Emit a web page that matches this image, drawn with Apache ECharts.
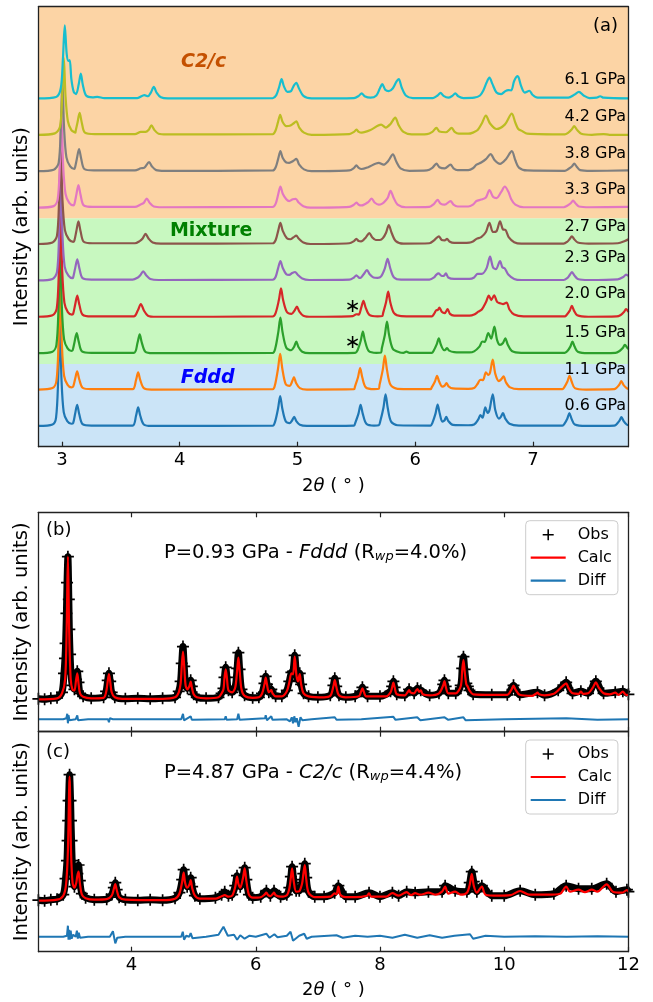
<!DOCTYPE html>
<html><head><meta charset="utf-8">
<script src="https://cdn.jsdelivr.net/npm/echarts@6/dist/echarts.min.js"></script>
<style>html,body{margin:0;padding:0;background:#fff}#c{width:653px;height:1002px}</style>
</head><body><div id="c"></div>
<script>
const FONT = 'DejaVu Sans';

// ---------------- Panel (a): stacked patterns ----------------
const pressuresA = ['0.6 GPa','1.1 GPa','1.5 GPa','2.0 GPa','2.3 GPa','2.7 GPa','3.3 GPa','3.8 GPa','4.2 GPa','6.1 GPa'];
const offsetsA = [0,1,2,3,4,5,6,7,8,9];
const colorsA = ['#1f77b4','#ff7f0e','#2ca02c','#d62728','#9467bd','#8c564b','#e377c2','#7f7f7f','#bcbd22','#17becf'];
const pressLabelY = [0.57,1.56,2.57,3.65,4.65,5.49,6.5,7.51,8.52,9.52];

const p06 = [[2.80,0.02],[2.92,0.06],[2.95,0.25],[2.968,1.3],[2.982,2.9],[2.996,1.3],[3.015,0.4],[3.045,0.15],[3.08,0.08],[3.095,0.1],[3.111,0.34],[3.129,0.6],[3.147,0.34],[3.175,0.07],[3.25,0.03],[3.6,0.03],[3.629,0.3],[3.647,0.53],[3.665,0.3],[3.695,0.06],[3.76,0.02],[4.79,0.03],[4.81,0.14],[4.835,0.5],[4.853,0.84],[4.871,0.5],[4.9,0.15],[4.935,0.1],[4.954,0.17],[4.972,0.27],[4.99,0.15],[5.02,0.05],[5.08,0.02],[5.48,0.03],[5.49,0.1],[5.518,0.36],[5.536,0.6],[5.554,0.36],[5.585,0.08],[5.65,0.03],[5.69,0.04],[5.703,0.15],[5.73,0.52],[5.748,0.89],[5.766,0.52],[5.795,0.14],[5.85,0.04],[6.13,0.03],[6.145,0.1],[6.172,0.36],[6.19,0.61],[6.208,0.36],[6.23,0.14],[6.248,0.17],[6.264,0.27],[6.282,0.15],[6.32,0.05],[6.45,0.04],[6.5,0.06],[6.535,0.2],[6.553,0.32],[6.572,0.25],[6.595,0.53],[6.615,0.38],[6.63,0.45],[6.658,0.89],[6.68,0.45],[6.71,0.22],[6.727,0.27],[6.745,0.37],[6.765,0.22],[6.8,0.08],[6.88,0.03],[7.25,0.03],[7.265,0.07],[7.291,0.22],[7.309,0.37],[7.327,0.22],[7.355,0.06],[7.45,0.02],[7.69,0.03],[7.733,0.16],[7.751,0.26],[7.77,0.15],[7.795,0.06],[7.81,0.04]];
const p11 = [[2.80,0.02],[2.92,0.06],[2.953,0.25],[2.971,1.3],[2.985,3.0],[2.999,1.3],[3.018,0.4],[3.048,0.15],[3.08,0.08],[3.095,0.1],[3.111,0.3],[3.129,0.52],[3.147,0.3],[3.175,0.07],[3.25,0.03],[3.6,0.03],[3.629,0.28],[3.647,0.49],[3.665,0.28],[3.695,0.06],[3.76,0.02],[4.79,0.03],[4.81,0.16],[4.835,0.6],[4.853,1.0],[4.871,0.6],[4.9,0.17],[4.935,0.12],[4.952,0.22],[4.97,0.36],[4.988,0.2],[5.02,0.06],[5.08,0.02],[5.48,0.03],[5.488,0.1],[5.514,0.36],[5.532,0.61],[5.55,0.36],[5.58,0.08],[5.65,0.03],[5.69,0.04],[5.697,0.15],[5.724,0.56],[5.742,0.95],[5.76,0.56],[5.79,0.15],[5.85,0.04],[6.13,0.03],[6.14,0.08],[6.167,0.24],[6.185,0.4],[6.203,0.24],[6.23,0.1],[6.25,0.13],[6.265,0.2],[6.283,0.11],[6.32,0.05],[6.45,0.04],[6.5,0.06],[6.53,0.18],[6.553,0.29],[6.575,0.28],[6.6,0.49],[6.622,0.42],[6.635,0.48],[6.658,0.84],[6.68,0.45],[6.71,0.25],[6.73,0.3],[6.75,0.38],[6.77,0.22],[6.805,0.08],[6.88,0.03],[7.25,0.03],[7.265,0.08],[7.292,0.24],[7.31,0.4],[7.328,0.24],[7.355,0.06],[7.45,0.02],[7.69,0.03],[7.732,0.15],[7.75,0.25],[7.768,0.15],[7.795,0.06],[7.81,0.04]];
const p15 = [[2.80,0.02],[2.92,0.06],[2.953,0.25],[2.971,1.3],[2.985,3.0],[2.999,1.3],[3.018,0.4],[3.048,0.15],[3.08,0.08],[3.091,0.1],[3.107,0.33],[3.125,0.57],[3.143,0.33],[3.17,0.07],[3.25,0.03],[3.61,0.03],[3.642,0.31],[3.66,0.54],[3.678,0.31],[3.708,0.06],[3.77,0.02],[4.79,0.03],[4.812,0.16],[4.837,0.6],[4.855,1.0],[4.873,0.6],[4.905,0.17],[4.945,0.1],[4.972,0.2],[4.99,0.34],[5.008,0.19],[5.04,0.06],[5.1,0.02],[5.49,0.03],[5.51,0.1],[5.537,0.36],[5.555,0.61],[5.573,0.36],[5.605,0.08],[5.67,0.03],[5.71,0.04],[5.716,0.15],[5.742,0.52],[5.76,0.89],[5.778,0.52],[5.81,0.14],[5.87,0.04],[5.9,0.03],[5.925,0.06],[5.95,0.03],[6.14,0.03],[6.155,0.08],[6.182,0.26],[6.2,0.43],[6.218,0.25],[6.245,0.1],[6.255,0.11],[6.27,0.16],[6.288,0.09],[6.33,0.05],[6.46,0.04],[6.5,0.07],[6.545,0.2],[6.57,0.34],[6.59,0.33],[6.62,0.57],[6.645,0.42],[6.672,0.75],[6.695,0.38],[6.72,0.25],[6.745,0.3],[6.765,0.43],[6.785,0.26],[6.82,0.08],[6.9,0.03],[7.27,0.03],[7.29,0.07],[7.317,0.2],[7.335,0.34],[7.353,0.2],[7.38,0.06],[7.47,0.02],[7.7,0.03],[7.735,0.08],[7.762,0.16],[7.78,0.25],[7.8,0.17],[7.81,0.13]];
const p20 = [[2.80,0.02],[2.92,0.06],[2.956,0.25],[2.974,1.3],[2.988,2.9],[3.002,1.3],[3.021,0.4],[3.05,0.15],[3.085,0.08],[3.095,0.1],[3.112,0.35],[3.13,0.6],[3.148,0.35],[3.175,0.08],[3.25,0.03],[3.61,0.03],[3.645,0.2],[3.67,0.37],[3.695,0.2],[3.73,0.05],[3.8,0.02],[4.79,0.03],[4.815,0.13],[4.842,0.48],[4.86,0.8],[4.878,0.48],[4.91,0.15],[4.95,0.1],[4.975,0.19],[4.995,0.3],[5.015,0.17],[5.05,0.05],[5.12,0.02],[5.47,0.04],[5.5,0.09],[5.52,0.08],[5.542,0.28],[5.56,0.46],[5.578,0.28],[5.61,0.07],[5.68,0.03],[5.72,0.04],[5.727,0.12],[5.752,0.42],[5.77,0.71],[5.788,0.42],[5.82,0.12],[5.88,0.04],[6.14,0.03],[6.16,0.1],[6.18,0.2],[6.19,0.2],[6.205,0.27],[6.225,0.16],[6.25,0.12],[6.275,0.23],[6.295,0.1],[6.33,0.05],[6.46,0.05],[6.5,0.08],[6.535,0.16],[6.565,0.22],[6.6,0.42],[6.625,0.6],[6.645,0.48],[6.67,0.61],[6.695,0.43],[6.72,0.39],[6.745,0.37],[6.775,0.41],[6.8,0.22],[6.84,0.08],[6.92,0.03],[7.27,0.03],[7.285,0.07],[7.312,0.19],[7.33,0.32],[7.348,0.19],[7.375,0.06],[7.47,0.02],[7.71,0.03],[7.745,0.07],[7.772,0.15],[7.79,0.23],[7.81,0.15]];
const p23 = [[2.80,0.02],[2.92,0.06],[2.958,0.25],[2.976,1.3],[2.99,2.8],[3.004,1.3],[3.023,0.4],[3.055,0.15],[3.09,0.08],[3.095,0.1],[3.112,0.35],[3.13,0.6],[3.148,0.35],[3.175,0.08],[3.25,0.04],[3.6,0.04],[3.645,0.1],[3.665,0.16],[3.69,0.27],[3.715,0.16],[3.75,0.06],[3.82,0.03],[4.79,0.04],[4.815,0.12],[4.835,0.35],[4.855,0.55],[4.875,0.36],[4.905,0.19],[4.93,0.17],[4.955,0.22],[4.98,0.25],[5.0,0.18],[5.04,0.07],[5.1,0.03],[5.44,0.04],[5.48,0.1],[5.5,0.16],[5.52,0.1],[5.535,0.09],[5.56,0.18],[5.59,0.3],[5.615,0.18],[5.645,0.1],[5.68,0.09],[5.71,0.13],[5.742,0.35],[5.765,0.61],[5.788,0.35],[5.82,0.1],[5.88,0.04],[6.12,0.04],[6.16,0.1],[6.18,0.18],[6.2,0.21],[6.22,0.15],[6.24,0.14],[6.26,0.21],[6.28,0.1],[6.33,0.06],[6.46,0.06],[6.5,0.1],[6.53,0.2],[6.565,0.2],[6.605,0.35],[6.635,0.67],[6.66,0.38],[6.685,0.33],[6.72,0.55],[6.74,0.38],[6.76,0.35],[6.79,0.18],[6.84,0.06],[6.9,0.03],[7.26,0.03],[7.29,0.08],[7.31,0.16],[7.33,0.25],[7.35,0.16],[7.38,0.06],[7.47,0.03],[7.72,0.05],[7.77,0.12],[7.79,0.18],[7.81,0.14]];
const p27 = [[2.80,0.02],[2.92,0.06],[2.958,0.25],[2.976,1.25],[2.99,2.66],[3.004,1.25],[3.025,0.4],[3.058,0.15],[3.095,0.08],[3.105,0.11],[3.122,0.37],[3.14,0.64],[3.158,0.37],[3.185,0.08],[3.26,0.04],[3.62,0.04],[3.66,0.1],[3.685,0.17],[3.71,0.3],[3.735,0.17],[3.77,0.06],[3.84,0.03],[4.79,0.04],[4.815,0.13],[4.836,0.38],[4.855,0.6],[4.875,0.38],[4.91,0.18],[4.94,0.15],[4.965,0.2],[4.99,0.25],[5.01,0.17],[5.05,0.06],[5.11,0.02],[5.44,0.04],[5.48,0.1],[5.5,0.16],[5.52,0.1],[5.54,0.09],[5.58,0.2],[5.61,0.32],[5.635,0.2],[5.665,0.13],[5.7,0.13],[5.725,0.18],[5.752,0.33],[5.775,0.54],[5.8,0.32],[5.835,0.1],[5.9,0.03],[6.12,0.04],[6.16,0.12],[6.2,0.23],[6.225,0.13],[6.25,0.12],[6.27,0.16],[6.29,0.09],[6.33,0.05],[6.46,0.06],[6.49,0.09],[6.52,0.16],[6.56,0.21],[6.6,0.35],[6.63,0.6],[6.66,0.35],[6.69,0.37],[6.72,0.64],[6.745,0.42],[6.765,0.41],[6.795,0.2],[6.84,0.07],[6.9,0.03],[7.26,0.03],[7.29,0.08],[7.31,0.15],[7.33,0.23],[7.35,0.15],[7.38,0.06],[7.47,0.03],[7.72,0.04],[7.78,0.1],[7.81,0.15]];
const p33 = [[2.80,0.02],[2.93,0.06],[2.964,0.25],[2.982,1.2],[2.996,2.56],[3.01,1.2],[3.03,0.4],[3.062,0.15],[3.098,0.08],[3.106,0.12],[3.122,0.37],[3.14,0.64],[3.158,0.37],[3.185,0.08],[3.26,0.04],[3.62,0.04],[3.665,0.1],[3.695,0.15],[3.72,0.27],[3.745,0.15],[3.78,0.05],[3.85,0.03],[4.79,0.04],[4.815,0.13],[4.836,0.38],[4.855,0.6],[4.875,0.4],[4.905,0.25],[4.93,0.2],[4.96,0.25],[4.985,0.26],[5.01,0.16],[5.05,0.06],[5.11,0.02],[5.44,0.04],[5.48,0.1],[5.5,0.16],[5.52,0.1],[5.545,0.08],[5.6,0.17],[5.63,0.27],[5.655,0.16],[5.69,0.1],[5.72,0.13],[5.745,0.2],[5.768,0.3],[5.79,0.48],[5.815,0.3],[5.85,0.1],[5.92,0.03],[6.12,0.04],[6.155,0.11],[6.19,0.23],[6.215,0.13],[6.25,0.1],[6.3,0.2],[6.325,0.1],[6.36,0.05],[6.45,0.05],[6.49,0.1],[6.52,0.2],[6.56,0.24],[6.6,0.3],[6.63,0.5],[6.66,0.32],[6.69,0.28],[6.73,0.45],[6.76,0.6],[6.79,0.46],[6.815,0.25],[6.85,0.1],[6.92,0.03],[7.26,0.03],[7.29,0.07],[7.32,0.14],[7.34,0.21],[7.36,0.14],[7.39,0.05],[7.48,0.03],[7.81,0.04]];
const p38 = [[2.80,0.02],[2.93,0.06],[2.972,0.25],[2.99,1.2],[3.004,2.49],[3.018,1.2],[3.038,0.4],[3.07,0.15],[3.105,0.08],[3.111,0.12],[3.127,0.37],[3.145,0.63],[3.163,0.37],[3.19,0.08],[3.27,0.04],[3.62,0.04],[3.67,0.1],[3.7,0.12],[3.74,0.27],[3.765,0.15],[3.8,0.05],[3.87,0.03],[4.79,0.04],[4.815,0.13],[4.836,0.36],[4.855,0.57],[4.875,0.38],[4.905,0.26],[4.93,0.25],[4.963,0.3],[4.99,0.36],[5.015,0.2],[5.055,0.07],[5.12,0.02],[5.44,0.04],[5.48,0.11],[5.5,0.18],[5.52,0.11],[5.545,0.08],[5.6,0.13],[5.69,0.25],[5.73,0.2],[5.77,0.3],[5.81,0.48],[5.84,0.28],[5.875,0.1],[5.95,0.03],[6.1,0.04],[6.145,0.11],[6.18,0.23],[6.205,0.13],[6.25,0.1],[6.3,0.2],[6.325,0.1],[6.36,0.05],[6.45,0.05],[6.49,0.1],[6.52,0.2],[6.56,0.26],[6.6,0.35],[6.64,0.49],[6.675,0.32],[6.72,0.22],[6.77,0.35],[6.82,0.57],[6.85,0.32],[6.88,0.12],[6.95,0.04],[7.27,0.03],[7.3,0.08],[7.33,0.15],[7.35,0.23],[7.37,0.15],[7.4,0.05],[7.49,0.03],[7.81,0.04]];
const p42 = [[2.80,0.02],[2.94,0.06],[2.984,0.25],[3.002,1.1],[3.016,2.13],[3.03,1.1],[3.05,0.4],[3.08,0.15],[3.115,0.08],[3.116,0.12],[3.132,0.36],[3.15,0.62],[3.168,0.36],[3.195,0.08],[3.28,0.04],[3.62,0.04],[3.67,0.1],[3.71,0.1],[3.735,0.15],[3.76,0.28],[3.785,0.15],[3.82,0.05],[3.89,0.03],[4.79,0.04],[4.813,0.13],[4.834,0.36],[4.853,0.57],[4.873,0.38],[4.905,0.26],[4.935,0.27],[4.965,0.33],[4.99,0.39],[5.015,0.22],[5.055,0.08],[5.12,0.02],[5.44,0.04],[5.48,0.1],[5.5,0.16],[5.52,0.1],[5.545,0.08],[5.62,0.15],[5.71,0.3],[5.75,0.22],[5.79,0.32],[5.83,0.49],[5.86,0.28],[5.9,0.1],[5.97,0.03],[6.1,0.04],[6.145,0.1],[6.18,0.21],[6.205,0.11],[6.26,0.09],[6.31,0.21],[6.335,0.1],[6.37,0.05],[6.45,0.05],[6.49,0.08],[6.53,0.15],[6.565,0.33],[6.6,0.55],[6.635,0.33],[6.69,0.18],[6.76,0.3],[6.82,0.6],[6.85,0.35],[6.875,0.18],[6.91,0.12],[6.95,0.05],[7.27,0.03],[7.3,0.08],[7.33,0.17],[7.35,0.26],[7.375,0.15],[7.41,0.05],[7.5,0.02],[7.6,0.04],[7.65,0.02],[7.81,0.02]];
const p61 = [[2.80,0.02],[2.95,0.06],[2.99,0.3],[3.008,1.1],[3.024,2.03],[3.04,1.25],[3.055,1.05],[3.066,1.07],[3.08,0.55],[3.1,0.2],[3.12,0.14],[3.142,0.4],[3.16,0.7],[3.178,0.38],[3.205,0.1],[3.26,0.05],[3.3,0.06],[3.36,0.03],[3.64,0.03],[3.7,0.11],[3.73,0.08],[3.755,0.18],[3.78,0.34],[3.805,0.17],[3.84,0.05],[3.9,0.02],[4.79,0.03],[4.82,0.11],[4.845,0.34],[4.865,0.55],[4.885,0.35],[4.915,0.2],[4.945,0.22],[4.967,0.36],[4.99,0.45],[5.012,0.3],[5.05,0.09],[5.12,0.02],[5.48,0.03],[5.52,0.09],[5.545,0.16],[5.57,0.08],[5.62,0.04],[5.67,0.1],[5.7,0.3],[5.72,0.41],[5.745,0.26],[5.775,0.22],[5.81,0.3],[5.84,0.48],[5.86,0.55],[5.885,0.32],[5.92,0.1],[5.98,0.03],[6.15,0.03],[6.19,0.1],[6.215,0.17],[6.24,0.09],[6.28,0.04],[6.315,0.09],[6.34,0.16],[6.365,0.08],[6.41,0.03],[6.5,0.04],[6.55,0.1],[6.58,0.25],[6.605,0.45],[6.63,0.59],[6.655,0.42],[6.69,0.18],[6.73,0.14],[6.765,0.22],[6.79,0.25],[6.815,0.24],[6.84,0.5],[6.87,0.63],[6.9,0.35],[6.93,0.18],[6.97,0.23],[6.995,0.12],[7.04,0.04],[7.3,0.04],[7.35,0.12],[7.39,0.2],[7.43,0.1],[7.48,0.03],[7.54,0.04],[7.57,0.08],[7.6,0.04],[7.81,0.02]];
const curvesA = [p06,p11,p15,p20,p23,p27,p33,p38,p42,p61];

// phase regions (y in stacked units)
const phaseBands = [[-0.55,1.72,'#cbe4f7'],[1.72,5.73,'#c8f8c0'],[5.73,11.54,'#fcd4a5']];
const starsA = [[5.468,3.30],[5.468,2.29]];
const ticksA = [3,4,5,6,7];

// ---------------- Panel (b): P=0.93 GPa ----------------
const obsB = [[2.5,0.05],[2.6,0],[2.7,0.1],[2.8,0.15],[2.88,0.7],[2.912,2.6],[2.928,4.1],[2.938,5.6],[2.951,8.6],[2.961,11.66],[2.975,14.26],[2.99,10.0],[2.998,7.0],[3.01,4.5],[3.025,2.6],[3.045,1.4],[3.08,1.0],[3.106,2.0],[3.126,2.8],[3.146,1.7],[3.17,0.6],[3.22,0.3],[3.35,0.1],[3.55,0.2],[3.59,0.8],[3.616,1.9],[3.636,2.6],[3.656,1.8],[3.68,0.7],[3.73,0.2],[3.9,0.05],[4.1,0.1],[4.3,0.05],[4.5,0.1],[4.7,0.2],[4.76,0.8],[4.79,1.8],[4.808,3.6],[4.828,5.27],[4.848,3.3],[4.87,1.5],[4.9,1.1],[4.93,1.4],[4.952,1.9],[4.97,1.3],[5.0,0.5],[5.05,0.2],[5.2,0.1],[5.4,0.2],[5.45,0.6],[5.48,1.1],[5.496,2.2],[5.516,3.2],[5.536,2.2],[5.56,0.9],[5.62,0.7],[5.67,1.3],[5.7,3.1],[5.72,4.66],[5.74,3.0],[5.77,1.0],[5.82,0.4],[5.95,0.15],[6.05,0.2],[6.1,0.6],[6.14,1.6],[6.16,2.3],[6.18,1.5],[6.21,0.7],[6.25,1.0],[6.27,0.6],[6.32,0.3],[6.42,0.3],[6.5,0.9],[6.54,1.8],[6.574,2.7],[6.6,2.8],[6.627,4.4],[6.655,2.5],[6.68,1.9],[6.708,2.6],[6.73,1.5],[6.77,0.6],[6.85,0.3],[7.0,0.2],[7.2,0.4],[7.25,1.4],[7.272,2.1],[7.295,1.3],[7.34,0.4],[7.45,0.2],[7.6,0.3],[7.697,0.8],[7.717,1.2],[7.737,0.8],[7.8,0.3],[8.0,0.3],[8.17,0.8],[8.196,1.3],[8.216,1.8],[8.236,1.2],[8.27,0.5],[8.4,0.4],[8.469,1.0],[8.55,0.6],[8.603,1.1],[8.657,0.9],[8.8,0.4],[8.95,0.6],[9.018,1.5],[9.038,1.9],[9.058,1.3],[9.1,0.6],[9.22,0.6],[9.3,1.4],[9.324,3.1],[9.344,4.26],[9.364,3.0],[9.39,1.6],[9.414,1.3],[9.44,0.9],[9.5,0.5],[9.8,0.45],[10.05,0.45],[10.15,1.4],[10.25,0.45],[10.536,0.7],[10.65,0.4],[10.87,0.9],[10.998,1.7],[11.1,0.6],[11.235,0.8],[11.35,0.6],[11.476,1.8],[11.6,0.6],[11.788,0.7],[11.91,0.8],[12.0,0.5]];
const calcB = [[2.5,0.0],[2.8,0.1],[2.88,0.6],[2.93,2.0],[2.955,7.0],[2.975,14.26],[2.995,7.0],[3.02,2.0],[3.05,0.95],[3.08,0.9],[3.106,1.9],[3.126,2.6],[3.146,1.6],[3.17,0.6],[3.22,0.25],[3.35,0.1],[3.55,0.15],[3.59,0.7],[3.616,1.8],[3.636,2.53],[3.656,1.8],[3.68,0.7],[3.73,0.2],[3.85,0.05],[4.5,0.05],[4.7,0.2],[4.76,0.7],[4.79,1.6],[4.808,3.3],[4.828,4.76],[4.848,3.3],[4.87,1.4],[4.9,1.0],[4.93,1.3],[4.952,1.76],[4.97,1.2],[5.0,0.5],[5.05,0.2],[5.2,0.1],[5.4,0.2],[5.45,0.6],[5.48,1.0],[5.496,2.1],[5.516,3.0],[5.536,2.1],[5.56,0.9],[5.62,0.7],[5.67,1.2],[5.7,2.9],[5.72,4.16],[5.74,2.9],[5.77,1.0],[5.82,0.35],[5.95,0.15],[6.05,0.2],[6.1,0.55],[6.14,1.5],[6.16,2.16],[6.18,1.5],[6.21,0.7],[6.23,0.8],[6.25,0.93],[6.27,0.6],[6.32,0.3],[6.42,0.3],[6.5,0.8],[6.54,1.7],[6.574,2.6],[6.6,2.5],[6.627,4.26],[6.655,2.4],[6.68,1.8],[6.708,2.53],[6.73,1.5],[6.77,0.6],[6.85,0.3],[7.1,0.2],[7.2,0.35],[7.25,1.3],[7.272,1.93],[7.295,1.3],[7.34,0.4],[7.45,0.2],[7.66,0.3],[7.697,0.8],[7.717,1.1],[7.737,0.8],[7.78,0.3],[8.1,0.3],[8.17,0.7],[8.196,1.2],[8.216,1.66],[8.236,1.2],[8.27,0.5],[8.4,0.4],[8.449,0.75],[8.469,0.93],[8.49,0.7],[8.55,0.6],[8.583,0.9],[8.603,1.03],[8.63,0.75],[8.657,0.9],[8.69,0.5],[8.8,0.4],[8.95,0.6],[9.018,1.4],[9.038,1.83],[9.058,1.3],[9.1,0.6],[9.22,0.6],[9.3,1.3],[9.324,2.9],[9.344,3.93],[9.364,2.8],[9.39,1.5],[9.414,1.26],[9.44,0.9],[9.5,0.5],[9.8,0.45],[10.05,0.45],[10.12,1.0],[10.15,1.36],[10.18,1.0],[10.25,0.45],[10.45,0.35],[10.51,0.55],[10.536,0.66],[10.56,0.5],[10.65,0.4],[10.8,0.55],[10.87,0.9],[10.93,1.26],[10.998,1.6],[11.03,1.2],[11.1,0.6],[11.2,0.55],[11.235,0.76],[11.27,0.55],[11.35,0.6],[11.43,1.2],[11.476,1.7],[11.52,1.2],[11.6,0.6],[11.7,0.5],[11.788,0.66],[11.84,0.45],[11.91,0.76],[11.96,0.45],[12.0,0.45]];
const diffB = [[2.5,-2.0],[2.9,-2.0],[2.95,-1.9],[2.965,-1.45],[2.975,-2.4],[2.985,-1.6],[3.0,-2.1],[3.1,-2.0],[3.126,-1.6],[3.14,-2.1],[3.3,-2.0],[3.62,-2.0],[3.636,-2.3],[3.65,-1.9],[3.7,-2.0],[4.8,-2.0],[4.828,-1.45],[4.845,-2.1],[4.952,-1.7],[4.97,-2.05],[5.5,-2.0],[5.516,-1.7],[5.53,-2.05],[5.7,-2.0],[5.72,-1.45],[5.74,-2.05],[6.15,-1.9],[6.16,-1.6],[6.18,-2.1],[6.25,-1.7],[6.27,-2.05],[6.5,-2.0],[6.55,-2.2],[6.58,-1.8],[6.6,-2.4],[6.62,-1.7],[6.64,-2.3],[6.66,-1.9],[6.69,-2.75],[6.72,-1.8],[6.75,-2.1],[6.9,-2.0],[7.272,-1.8],[7.3,-2.05],[7.7,-2.0],[8.216,-1.75],[8.25,-2.05],[8.6,-1.8],[8.65,-2.1],[9.04,-1.8],[9.1,-2.05],[9.344,-1.8],[9.38,-2.1],[10.0,-2.0],[11.0,-1.9],[11.5,-2.05],[12.0,-2.0]];

// ---------------- Panel (c): P=4.87 GPa ----------------
const obsC = [[2.5,0.05],[2.6,0],[2.7,0.1],[2.8,0.15],[2.9,0.6],[2.937,2.2],[2.96,4.0],[2.97,6.0],[2.979,8.0],[2.986,10.0],[3.002,12.6],[3.018,10.0],[3.025,8.0],[3.034,6.0],[3.044,4.0],[3.06,2.2],[3.08,1.4],[3.11,2.0],[3.127,2.7],[3.147,3.57],[3.167,2.0],[3.2,0.7],[3.26,0.3],[3.4,0.1],[3.6,0.15],[3.68,0.6],[3.715,1.3],[3.738,1.8],[3.76,1.1],[3.8,0.35],[3.9,0.1],[4.1,0.05],[4.3,0.1],[4.5,0.05],[4.7,0.25],[4.77,0.8],[4.815,2.1],[4.839,3.1],[4.862,1.9],[4.895,1.4],[4.93,1.7],[4.952,2.3],[4.975,1.4],[5.02,0.5],[5.1,0.2],[5.35,0.3],[5.45,0.6],[5.5,0.9],[5.56,0.5],[5.62,0.6],[5.67,1.5],[5.698,2.5],[5.72,1.8],[5.75,1.4],[5.795,2.4],[5.822,3.3],[5.848,2.1],[5.89,0.6],[5.95,0.3],[6.08,0.4],[6.171,1.0],[6.235,0.5],[6.294,1.0],[6.4,0.4],[6.5,0.6],[6.54,1.3],[6.565,2.4],[6.585,3.4],[6.61,2.1],[6.65,1.0],[6.7,1.0],[6.745,1.8],[6.765,2.7],[6.789,3.7],[6.812,2.3],[6.85,0.9],[6.95,0.4],[7.1,0.4],[7.27,0.8],[7.33,1.5],[7.45,0.4],[7.6,0.4],[7.824,0.8],[8.0,0.4],[8.2,0.8],[8.3,0.5],[8.43,0.9],[8.566,0.8],[8.78,0.9],[9.0,0.9],[9.049,1.5],[9.21,1.0],[9.4,0.9],[9.445,1.8],[9.478,2.9],[9.51,1.9],[9.56,0.9],[9.64,1.5],[9.8,0.5],[10.0,0.5],[10.257,1.0],[10.5,0.6],[10.8,0.7],[10.998,1.5],[11.197,1.2],[11.41,1.2],[11.65,1.7],[11.8,0.9],[11.976,1.1],[12.0,0.9]];
const calcC = [[2.5,0],[2.8,0.1],[2.9,0.5],[2.945,1.6],[2.975,5.0],[3.002,12.4],[3.025,5.0],[3.05,1.8],[3.08,1.3],[3.11,1.8],[3.127,2.5],[3.147,2.9],[3.167,1.8],[3.2,0.6],[3.26,0.25],[3.4,0.1],[3.6,0.15],[3.68,0.5],[3.715,1.2],[3.738,1.67],[3.76,1.1],[3.8,0.35],[3.9,0.1],[4.5,0.05],[4.7,0.2],[4.77,0.7],[4.815,1.9],[4.839,2.8],[4.862,1.8],[4.895,1.3],[4.93,1.6],[4.952,2.07],[4.975,1.3],[5.02,0.5],[5.1,0.2],[5.35,0.2],[5.45,0.45],[5.5,0.55],[5.56,0.4],[5.62,0.5],[5.67,1.4],[5.698,2.4],[5.72,1.7],[5.75,1.3],[5.795,2.3],[5.822,3.24],[5.848,2.0],[5.89,0.6],[5.95,0.3],[6.08,0.35],[6.14,0.6],[6.171,0.8],[6.2,0.55],[6.235,0.45],[6.27,0.65],[6.294,0.8],[6.32,0.55],[6.4,0.4],[6.5,0.55],[6.54,1.2],[6.565,2.3],[6.585,3.24],[6.61,2.0],[6.65,0.9],[6.7,0.95],[6.745,1.7],[6.765,2.6],[6.789,3.57],[6.812,2.2],[6.85,0.8],[6.95,0.35],[7.2,0.4],[7.27,0.73],[7.3,0.65],[7.33,1.4],[7.36,0.6],[7.45,0.35],[7.6,0.35],[7.79,0.5],[7.824,0.73],[7.86,0.4],[8.1,0.4],[8.2,0.75],[8.3,0.5],[8.43,0.85],[8.5,0.55],[8.566,0.75],[8.65,0.6],[8.78,0.8],[8.9,0.6],[9.0,0.9],[9.049,1.4],[9.1,0.7],[9.21,0.9],[9.3,0.6],[9.4,0.8],[9.445,1.6],[9.478,2.67],[9.51,1.5],[9.56,0.8],[9.64,1.4],[9.7,0.6],[9.9,0.5],[10.1,0.55],[10.257,0.97],[10.4,0.6],[10.7,0.6],[10.9,0.7],[10.998,1.4],[11.06,0.9],[11.197,1.1],[11.3,0.85],[11.41,1.1],[11.5,0.9],[11.65,1.64],[11.75,0.9],[11.9,0.8],[11.976,1.07],[12.0,0.9]];
const diffC = [[2.5,-3.6],[2.9,-3.6],[2.96,-3.5],[2.975,-2.5],[2.985,-3.9],[2.995,-2.9],[3.005,-3.9],[3.02,-3.0],[3.035,-3.8],[3.06,-3.4],[3.1,-3.6],[3.12,-3.0],[3.135,-3.8],[3.15,-3.2],[3.17,-3.7],[3.3,-3.6],[3.65,-3.6],[3.7,-3.05],[3.738,-4.27],[3.77,-3.7],[3.9,-3.6],[4.8,-3.6],[4.825,-3.1],[4.845,-3.9],[4.88,-3.5],[4.93,-3.6],[4.952,-3.25],[4.98,-3.75],[5.2,-3.6],[5.4,-3.4],[5.48,-2.6],[5.55,-3.5],[5.58,-3.7],[5.65,-3.4],[5.7,-3.9],[5.75,-3.45],[5.82,-3.8],[5.9,-3.5],[6.0,-3.6],[6.17,-3.3],[6.22,-3.7],[6.3,-3.35],[6.35,-3.65],[6.5,-3.5],[6.56,-3.1],[6.6,-4.0],[6.7,-3.5],[6.78,-3.3],[6.82,-3.8],[6.9,-3.6],[7.3,-3.45],[7.4,-3.7],[7.6,-3.5],[7.8,-3.6],[8.0,-3.5],[8.2,-3.7],[8.4,-3.4],[8.6,-3.7],[8.8,-3.45],[9.0,-3.7],[9.2,-3.5],[9.45,-3.35],[9.5,-3.8],[9.7,-3.5],[10.0,-3.6],[10.5,-3.55],[11.0,-3.6],[11.5,-3.55],[12.0,-3.6]];
const ticksBC = [4,6,8,10,12];

// ---------------- styling / layout ----------------
const FRAME = '#222';
const PLUS = 'path://M4.3,0h1.4v10h-1.4z M0,4.3h10v1.4h-10z';
const LINEICON = 'path://M0,0H35V2.2H0Z';
const GRIDS = [
  {left:38.4, top:6.7, width:590, height:440},
  {left:38.4, top:512.3, width:590, height:219.4},
  {left:38.4, top:731.7, width:590, height:220}
];
const XR = [[2.8,7.81],[2.5,12],[2.5,12]];
const YR = [[-0.55,11.54],[-3.24,18.7],[-5.1,16.9]];
const xName = {n:{fontSize:18,fontFamily:FONT,color:'#000'}, i:{fontSize:18,fontFamily:FONT,fontStyle:'italic',color:'#000'}};

function bottomX(g, withLabels, withName, nameGap){
  return {type:'value', gridIndex:g, position:'bottom', min:XR[g][0], max:XR[g][1], z:10,
    axisLine:{show:true,onZero:false,lineStyle:{color:FRAME,width:1.3}},
    axisTick:{show:true,inside:true,length:5,customValues:g===0?ticksA:ticksBC,lineStyle:{color:FRAME,width:1.2}},
    axisLabel:{show:withLabels,customValues:g===0?ticksA:ticksBC,margin:5,fontSize:18,fontFamily:FONT,color:'#000'},
    splitLine:{show:false},
    name: withName ? '{n|2}{i|θ}{n| ( ° )}' : '', nameLocation:'middle', nameGap:nameGap,
    nameTextStyle:{rich:xName}};
}
function topX(g, ticks){
  return {type:'value', gridIndex:g, position:'top', min:XR[g][0], max:XR[g][1], z:10,
    axisLine:{show:true,onZero:false,lineStyle:{color:FRAME,width:1.3}},
    axisTick:{show:ticks,inside:true,length:5,customValues:ticksBC,lineStyle:{color:FRAME,width:1.2}},
    axisLabel:{show:false}, splitLine:{show:false}};
}
function leftY(g){
  return {type:'value', gridIndex:g, position:'left', min:YR[g][0], max:YR[g][1], z:10,
    axisLine:{show:true,onZero:false,lineStyle:{color:FRAME,width:1.3}},
    axisTick:{show:false}, axisLabel:{show:false}, splitLine:{show:false},
    name:'Intensity (arb. units)', nameLocation:'middle', nameGap:6,
    nameTextStyle:{fontSize:19.5,fontFamily:FONT,color:'#000'}};
}
function rightY(g){
  return {type:'value', gridIndex:g, position:'right', min:YR[g][0], max:YR[g][1], z:10,
    axisLine:{show:true,onZero:false,lineStyle:{color:FRAME,width:1.3}},
    axisTick:{show:false}, axisLabel:{show:false}, splitLine:{show:false}};
}

const series = [];
// phase background bands
series.push({type:'line', xAxisIndex:0, yAxisIndex:0, data:[], z:1, silent:true,
  markArea:{silent:true, data: phaseBands.map(b=>[{xAxis:XR[0][0], yAxis:b[0], itemStyle:{color:b[2], opacity:1}},{xAxis:XR[0][1], yAxis:b[1]}])}});
// stacked curves
curvesA.forEach((c,i)=>{
  series.push({type:'line', name:pressuresA[i], xAxisIndex:0, yAxisIndex:0, z:3, silent:true,
    data:c.map(p=>[p[0], p[1]+offsetsA[i]]), symbol:'none', smooth:0.3,
    lineStyle:{color:colorsA[i], width:2.2}});
});
const labelItem = {color:'transparent', opacity:1};
// pressure labels
series.push({type:'scatter', xAxisIndex:0, yAxisIndex:0, z:6, silent:true, symbolSize:0.1,
  itemStyle:labelItem,
  data: pressuresA.map((t,i)=>({name:t, value:[7.791, pressLabelY[i]]})),
  label:{show:true, position:'left', distance:0, formatter:'{b}', fontSize:16, fontFamily:FONT, color:'#000'}});
// phase names
const phaseLabels = [
  {name:'C2/c', value:[4.203,10.02], label:{color:'#c45000', fontStyle:'italic'}},
  {name:'Mixture', value:[4.267,5.38], label:{color:'#008000', fontStyle:'normal'}},
  {name:'Fddd', value:[4.237,1.34], label:{color:'#0000ff', fontStyle:'italic'}}
];
series.push({type:'scatter', xAxisIndex:0, yAxisIndex:0, z:6, silent:true, symbolSize:0.1,
  itemStyle:labelItem, data: phaseLabels,
  label:{show:true, position:'inside', formatter:'{b}', fontSize:19, fontWeight:'bold', fontFamily:FONT}});
// asterisks
series.push({type:'scatter', xAxisIndex:0, yAxisIndex:0, z:6, silent:true, symbolSize:0.1,
  itemStyle:labelItem, data: starsA,
  label:{show:true, position:'inside', formatter:'∗', fontSize:19, fontFamily:FONT, color:'#000'}});

// refinement panels
[[obsB,calcB,diffB,2],[obsC,calcC,diffC,4]].forEach(([o,c,d,ax])=>{
  series.push({type:'line', name:'Obs', xAxisIndex:ax, yAxisIndex:ax, z:3, silent:true, data:o,
    smooth:0.3, symbol:PLUS, symbolSize:12, showSymbol:true, showAllSymbol:true,
    itemStyle:{color:'#000', borderWidth:0}, lineStyle:{color:'#000', width:7}});
  series.push({type:'line', name:'Calc', xAxisIndex:ax, yAxisIndex:ax, z:4, silent:true, data:c,
    smooth:0.3, symbol:'none', itemStyle:{color:'#ff0000'}, lineStyle:{color:'#ff0000', width:2.2}});
  series.push({type:'line', name:'Diff', xAxisIndex:ax, yAxisIndex:ax, z:4, silent:true, data:d,
    smooth:false, symbol:'none', itemStyle:{color:'#1f77b4'}, lineStyle:{color:'#1f77b4', width:2}});
});

function legendAt(top){
  return {show:true, selectedMode:false, orient:'vertical', left:525.7, top:top,
    data:[{name:'Obs', icon:PLUS},{name:'Calc', icon:LINEICON},{name:'Diff', icon:LINEICON}],
    itemWidth:35, itemHeight:11, itemGap:7, padding:[6,6,6,5],
    borderColor:'#cccccc', borderWidth:1, borderRadius:4, backgroundColor:'rgba(255,255,255,0.85)',
    textStyle:{fontSize:16, fontFamily:FONT, color:'#000', padding:[0,0,0,7]}};
}

const richTitle = {i:{fontStyle:'italic', fontSize:19.5, fontFamily:FONT, color:'#000'},
                   s:{fontStyle:'italic', fontSize:13, fontFamily:FONT, color:'#000', verticalAlign:'top', padding:[8,0,0,0]}};
function txt(x,y,text,size,rich){
  return {type:'text', x:x, y:y, z:20, silent:true,
    style:{text:text, fontSize:size, fontFamily:FONT, fill:'#000', verticalAlign:'middle', align:'left', rich:rich||{}}};
}

const option = {
  animation:false,
  backgroundColor:'#ffffff',
  grid: GRIDS.map(g=>Object.assign({containLabel:false}, g)),
  xAxis:[bottomX(0,true,true,31), topX(0,false), bottomX(1,false,false,0), topX(1,true), bottomX(2,true,true,29.5), topX(2,true)],
  yAxis:[leftY(0), rightY(0), leftY(1), rightY(1), leftY(2), rightY(2)],
  legend:[legendAt(520.7), legendAt(740)],
  series: series,
  graphic:[
    txt(593,26,'(a)',18),
    txt(46,530.5,'(b)',18),
    txt(46,752,'(c)',18),
    txt(164,553,'P=0.93 GPa - {i|Fddd} (R{s|wp}=4.0%)',19.5,richTitle),
    txt(164,773,'P=4.87 GPa - {i|C2/c} (R{s|wp}=4.4%)',19.5,richTitle)
  ]
};
const chart = echarts.init(document.getElementById('c'), null, {renderer:'canvas'});
chart.setOption(option);
</script>
</body></html>
